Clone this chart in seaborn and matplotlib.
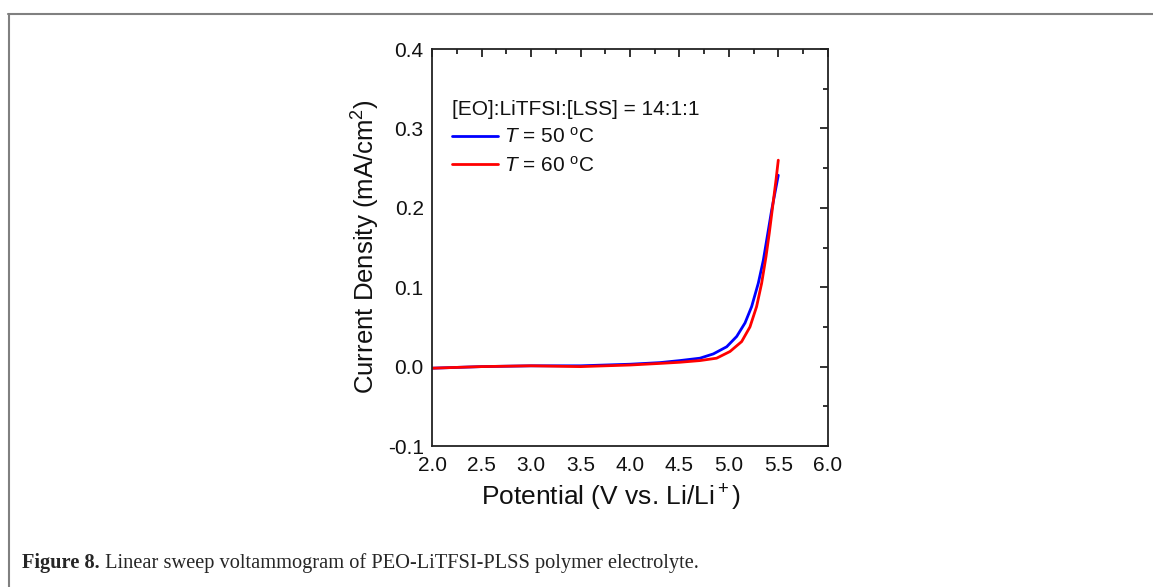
import numpy as np
import pandas as pd
import matplotlib
matplotlib.use("Agg")
import matplotlib.pyplot as plt
import seaborn as sns
from matplotlib.lines import Line2D
from matplotlib.ticker import MultipleLocator

# ---- data ----
x_50 = [2.0, 2.5, 3.0, 3.5, 4.0, 4.3, 4.505, 4.707, 4.842, 4.977, 5.078, 5.162, 5.229, 5.296, 5.347, 5.387, 5.431, 5.498]
y_50 = [-0.002, 0.000, 0.001, 0.001, 0.003, 0.005, 0.0076, 0.0106, 0.016, 0.025, 0.038, 0.055, 0.0756, 0.105, 0.134, 0.164, 0.197, 0.241]
x_60 = [2.0, 2.5, 3.0, 3.5, 4.0, 4.3, 4.505, 4.707, 4.875, 5.01, 5.128, 5.212, 5.279, 5.33, 5.374, 5.407, 5.441, 5.475, 5.498]
y_60 = [-0.002, 0.000, 0.001, 0.000, 0.002, 0.004, 0.0055, 0.0076, 0.0106, 0.019, 0.0315, 0.050, 0.0756, 0.105, 0.1385, 0.168, 0.2015, 0.235, 0.260]
series_labels = [r"$\mathit{T}$ = 50 $\mathregular{^o}$C", r"$\mathit{T}$ = 60 $\mathregular{^o}$C"]
series_colors = ["#0000ff", "#ff0000"]
legend_title = "[EO]:LiTFSI:[LSS] = 14:1:1"
x_label = r"Potential (V vs. Li/Li$\mathregular{^+}$)"
y_label = r"Current Density (mA/cm$\mathregular{^2}$)"
caption_bold = "Figure 8."
caption_text = " Linear sweep voltammogram of PEO-LiTFSI-PLSS polymer electrolyte."

df = pd.concat([
    pd.DataFrame({"x": x_50, "y": y_50, "s": series_labels[0]}),
    pd.DataFrame({"x": x_60, "y": y_60, "s": series_labels[1]}),
])

sns.set_theme(style="white")
plt.rcParams["font.family"] = ["Liberation Sans", "DejaVu Sans"]
plt.rcParams["mathtext.fontset"] = "custom"
plt.rcParams["mathtext.rm"] = "Liberation Sans"
plt.rcParams["mathtext.it"] = "Liberation Sans:italic"

fig = plt.figure(figsize=(11.53, 5.87), dpi=100)
ax = fig.add_axes([0.3747, 0.2402, 0.3434, 0.6763])

sns.lineplot(data=df, x="x", y="y", hue="s", palette=series_colors, sort=False,
             estimator=None, linewidth=2.0, ax=ax)

ax.set_xlim(2.0, 6.0)
ax.set_ylim(-0.1, 0.4)
ax.xaxis.set_major_locator(MultipleLocator(0.5))
ax.xaxis.set_minor_locator(MultipleLocator(0.25))
ax.yaxis.set_major_locator(MultipleLocator(0.1))
ax.yaxis.set_minor_locator(MultipleLocator(0.05))
ax.set_xticklabels([f"{v:.1f}" for v in ax.get_xticks()])
ax.set_yticklabels([f"{v:.1f}" for v in ax.get_yticks()])
ax.tick_params(which="both", direction="in", top=True, right=True, color="#222222", width=1.3, labelsize=15, labelcolor="#111111")
ax.tick_params(which="major", length=6)
ax.tick_params(axis="x", which="major", pad=7)
ax.tick_params(axis="y", which="major", pad=6)
ax.tick_params(which="minor", length=3.5)
for sp in ax.spines.values():
    sp.set_color("#222222")
    sp.set_linewidth(1.3)

ax.set_xlabel(x_label, fontsize=19, color="#111111")
ax.set_ylabel(y_label, fontsize=18.5, color="#111111")
ax.xaxis.set_label_coords((611 - 432) / 396, -(498 - 446) / 397)
ax.xaxis.label.set_va("center")
ax.yaxis.set_label_coords(-(432 - 366) / 396, (446 - 247) / 397)
ax.yaxis.label.set_va("center")

leg = ax.legend(title=legend_title, loc="upper left", bbox_to_anchor=(0.05, 0.872),
                frameon=False, fontsize=15, title_fontsize=15, handlelength=2.2,
                handletextpad=0.3, labelspacing=0.4, borderaxespad=0, borderpad=0)
leg._legend_box.align = "left"
for t in [leg.get_title()] + leg.get_texts():
    t.set_color("#111111")

# page frame lines
fig.add_artist(Line2D([8/1153, 1.0], [1 - 14/587, 1 - 14/587], color="#808080", linewidth=1.5))
fig.add_artist(Line2D([9/1153, 9/1153], [0.0, 1 - 14/587], color="#808080", linewidth=1.5))

t1 = fig.text(22/1153, 1 - 563/587, caption_bold, fontsize=14.7, fontweight="bold",
              family=["Liberation Serif", "DejaVu Serif"], va="center", ha="left")
fig.canvas.draw()
bb = t1.get_window_extent()
fig.text(bb.x1 / fig.bbox.width, 1 - 563/587, caption_text, fontsize=14.7,
         family=["Liberation Serif", "DejaVu Serif"], va="center", ha="left")

fig.savefig("out.png", dpi=100)
